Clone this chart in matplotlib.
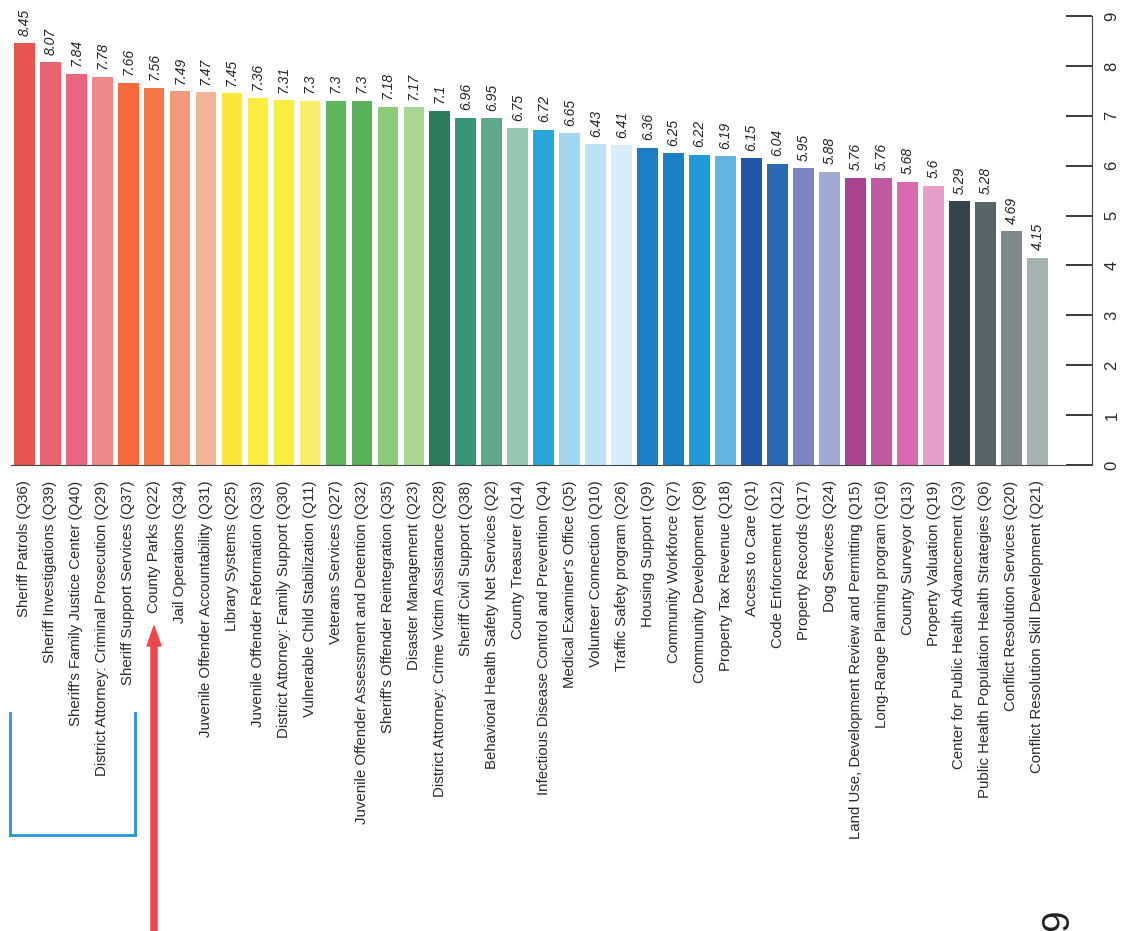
import matplotlib
matplotlib.use("Agg")
import matplotlib.pyplot as plt
from matplotlib.lines import Line2D
from matplotlib.patches import FancyArrow

plt.rcParams['font.family'] = ['Liberation Sans', 'DejaVu Sans']

# programme names and their average scores, as printed on the chart
programs = [
    "Sheriff Patrols (Q36)", "Sheriff Investigations (Q39)",
    "Sheriff's Family Justice Center (Q40)", "District Attorney: Criminal Prosecution (Q29)",
    "Sheriff Support Services (Q37)", "County Parks (Q22)", "Jail Operations (Q34)",
    "Juvenile Offender Accountability (Q31)", "Library Systems (Q25)",
    "Juvenile Offender Reformation (Q33)", "District Attorney: Family Support (Q30)",
    "Vulnerable Child Stabilization (Q11)", "Veterans Services (Q27)",
    "Juvenile Offender Assessment and Detention (Q32)", "Sheriff's Offender Reintegration (Q35)",
    "Disaster Management (Q23)", "District Attorney: Crime Victim Assistance (Q28)",
    "Sheriff Civil Support (Q38)", "Behavioral Health Safety Net Services (Q2)",
    "County Treasurer (Q14)", "Infectious Disease Control and Prevention (Q4)",
    "Medical Examiner's Office (Q5)", "Volunteer Connection (Q10)",
    "Traffic Safety program (Q26)", "Housing Support (Q9)", "Community Workforce (Q7)",
    "Community Development (Q8)", "Property Tax Revenue (Q18)", "Access to Care (Q1)",
    "Code Enforcement (Q12)", "Property Records (Q17)", "Dog Services (Q24)",
    "Land Use, Development Review and Permitting (Q15)", "Long-Range Planning program (Q16)",
    "County Surveyor (Q13)", "Property Valuation (Q19)",
    "Center for Public Health Advancement (Q3)", "Public Health Population Health Strategies (Q6)",
    "Conflict Resolution Services (Q20)", "Conflict Resolution Skill Development (Q21)",
]
scores = [8.45, 8.07, 7.84, 7.78, 7.66, 7.56, 7.49, 7.47, 7.45, 7.36,
          7.31, 7.3, 7.3, 7.3, 7.18, 7.17, 7.1, 6.96, 6.95, 6.75,
          6.72, 6.65, 6.43, 6.41, 6.36, 6.25, 6.22, 6.19, 6.15, 6.04,
          5.95, 5.88, 5.76, 5.76, 5.68, 5.6, 5.29, 5.28, 4.69, 4.15]
bar_colors = [
    "#e5544f", "#e8636e", "#ea6680", "#ef8a8c", "#f46a3a", "#f57845", "#f39a7a", "#f3b597",
    "#fbe83a", "#fbec3f", "#f9ec43", "#f7ef6a", "#5db55c", "#5ab05a", "#8ccb77", "#a8d694",
    "#2f7c5c", "#3a9477", "#5fa88c", "#98c9b3", "#28a6da", "#a6d7f2", "#bde3f6", "#d7eefa",
    "#1a7fc6", "#1b7fc4", "#1e9bd6", "#62b4e2", "#1f56a6", "#2a6ab2", "#7b86c0", "#9ea9d4",
    "#a94490", "#c05aa2", "#d96ab0", "#e6a1cb", "#34454e", "#566568", "#7f8a8c", "#a4b2b2",
]
score_ticks = list(range(10))

W, H = 1131, 931
fig = plt.figure(figsize=(W / 100, H / 100), dpi=100)
ax = fig.add_axes([11.2 / W, 1 - 465 / H, (1092 - 11.2) / W, (465 - 16) / H])

x = list(range(len(programs)))
ax.bar(x, scores, width=0.8, color=bar_colors, edgecolor="none")

for xi, v in zip(x, scores):
    ax.text(xi, v + 0.15, f"{v:g}", rotation=90, ha="center", va="bottom",
            fontsize=10, style="italic", color="#222222")

ax.set_xlim(-0.5, 41.1)
ax.set_ylim(0, 9)
ax.set_xticks(x, programs, rotation=90, ha="center", va="top", fontsize=10.8, color="#2a2a2a")
ax.tick_params(axis="x", length=0, pad=11)

ax.yaxis.tick_right()
ax.set_yticks(score_ticks)
ax.tick_params(axis="y", direction="in", length=19, width=1.3, pad=9,
               labelsize=12, labelrotation=90, colors="#2a2a2a")
for lab in ax.get_yticklabels():
    lab.set_va("center")

for side in ("left", "top"):
    ax.spines[side].set_visible(False)
ax.spines["right"].set_color("#444444")
ax.spines["bottom"].set_color("#444444")

# hand-drawn marks on the printout (pixel positions)
def px(xp, yp):
    return xp / W, 1 - yp / H

blue = "#2196e0"
for (x0, y0), (x1, y1) in [((10, 713), (10, 835)), ((10, 835), (135, 835)), ((135, 835), (135, 713))]:
    (a, b), (c, d) = px(x0, y0), px(x1, y1)
    fig.add_artist(Line2D([a, c], [b, d], color=blue, lw=2))

sx, sy = px(154, 931)
ex, ey = px(154, 626)
fig.add_artist(FancyArrow(sx, sy, 0, ey - sy, width=5 / H, head_width=14 / W,
                          head_length=20 / H, color="#f0474a", transform=fig.transFigure,
                          length_includes_head=True))

tx, ty = px(1058, 920)
fig.text(tx, ty, "9", rotation=90, fontsize=28, ha="center", va="center", color="#222222")

fig.savefig("out.png", dpi=100)
